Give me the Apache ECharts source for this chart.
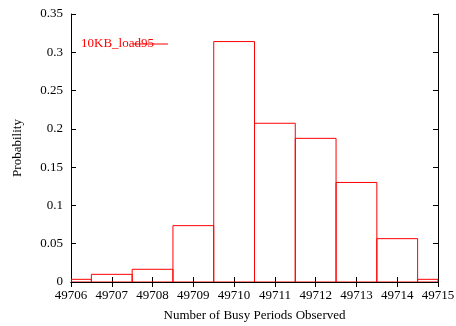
<!DOCTYPE html>
<html><head><meta charset="utf-8">
<script src="https://cdn.jsdelivr.net/npm/echarts@6/dist/echarts.min.js"></script>
<style>html,body{margin:0;padding:0;background:#fff}#c{width:456px;height:326px}</style>
</head><body><div id="c"></div>
<script>
var categories = [49706, 49707, 49708, 49709, 49710, 49711, 49712, 49713, 49714, 49715];
var probabilities = [0.0035, 0.010, 0.0166, 0.0736, 0.314, 0.2073, 0.1876, 0.130, 0.0566, 0.0035];
var seriesName = '10KB_load95';
var xTitle = 'Number of Busy Periods Observed';
var yTitle = 'Probability';

var chart = echarts.init(document.getElementById('c'));
var font = 'Liberation Serif, Times New Roman, serif';
var data = categories.map(function (c, i) { return [c, probabilities[i]]; });

chart.setOption({
  animation: false,
  grid: { left: 71, right: 18, top: 14, bottom: 44, show: false, containLabel: false, outerBoundsMode: 'none' },
  xAxis: [{
    type: 'value', min: 49706, max: 49715, interval: 1,
    name: xTitle, nameLocation: 'middle', nameGap: 27,
    nameTextStyle: { fontFamily: font, fontSize: 13, color: '#000' },
    axisLine: { show: true, lineStyle: { color: '#000', width: 1 } },
    axisTick: { show: true, inside: true, length: 5, lineStyle: { color: '#000' } },
    axisLabel: { fontFamily: font, fontSize: 13, color: '#000', margin: 7, formatter: function (v) { return String(v); } },
    splitLine: { show: false }
  }, {
    type: 'value', min: 49706, max: 49715, interval: 1, position: 'top',
    axisLine: { show: true, lineStyle: { color: '#000', width: 1 } },
    axisTick: { show: true, inside: true, length: 5, lineStyle: { color: '#000' } },
    axisLabel: { show: false }, splitLine: { show: false }
  }],
  yAxis: [{
    type: 'value', min: 0, max: 0.35, interval: 0.05,
    name: yTitle, nameLocation: 'middle', nameGap: 47,
    nameTextStyle: { fontFamily: font, fontSize: 13, color: '#000' },
    axisLine: { show: true, lineStyle: { color: '#000', width: 1 } },
    axisTick: { show: true, inside: true, length: 5, lineStyle: { color: '#000' } },
    axisLabel: { fontFamily: font, fontSize: 13, color: '#000', margin: 8,
      formatter: function (v) { return v === 0 ? '0' : String(parseFloat(v.toFixed(2))); } },
    splitLine: { show: false }
  }, {
    type: 'value', min: 0, max: 0.35, interval: 0.05, position: 'right',
    axisLine: { show: true, lineStyle: { color: '#000', width: 1 } },
    axisTick: { show: true, inside: true, length: 5, lineStyle: { color: '#000' } },
    axisLabel: { show: false }, splitLine: { show: false }
  }],
  series: [{
    name: seriesName,
    type: 'custom',
    xAxisIndex: 0, yAxisIndex: 0,
    data: data,
    clip: true,
    renderItem: function (params, api) {
      var x = api.value(0), y = api.value(1);
      var p0 = api.coord([x - 0.5, y]);
      var p1 = api.coord([x + 0.5, 0]);
      var cs = params.coordSys;
      var rect = echarts.graphic.clipRectByRect(
        { x: p0[0], y: p0[1], width: p1[0] - p0[0], height: p1[1] - p0[1] },
        { x: cs.x, y: cs.y, width: cs.width, height: cs.height + 1 });
      if (!rect) return;
      return {
        type: 'rect', shape: rect,
        style: { fill: 'none', stroke: '#ff0000', lineWidth: 1 }
      };
    }
  }],
  graphic: [
    { type: 'text', left: 81, top: 37, style: { text: seriesName, fill: '#ff0000', font: '13px ' + font } },
    { type: 'line', shape: { x1: 133, y1: 44, x2: 168, y2: 44 }, style: { stroke: '#ff0000', lineWidth: 1 } }
  ]
});
</script></body></html>
